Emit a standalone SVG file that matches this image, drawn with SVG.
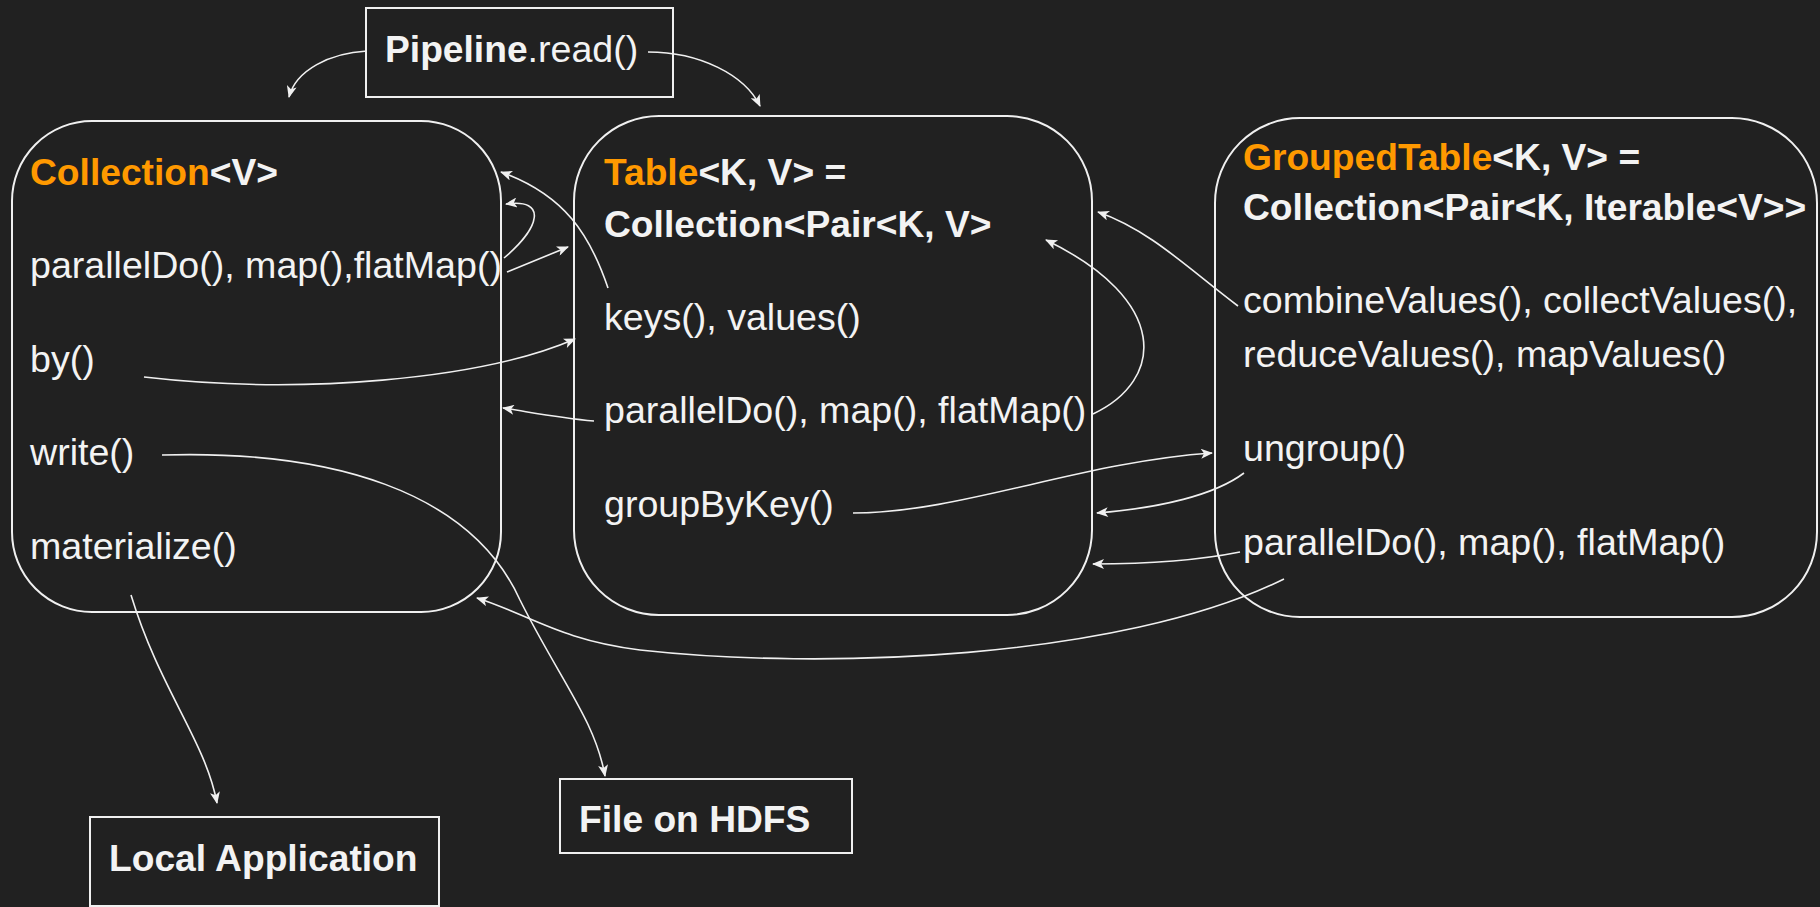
<svg xmlns="http://www.w3.org/2000/svg" width="1820" height="907" viewBox="0 0 1820 907">
  <style>
    .box { fill: none; stroke: #f0f0f0; stroke-width: 2; }
    .t { font-family: "Liberation Sans", Arial, sans-serif; font-size: 37.6px; fill: #f3f3f3; }
    .b { font-weight: bold; font-size: 37.2px; }
    .o { fill: #ff9900; }
    .edge { fill: none; stroke: #f0f0f0; stroke-width: 1.6; marker-end: url(#arrow); }
  </style>
  <defs>
    <marker id="arrow" viewBox="0 0 12 10" refX="11" refY="5" markerWidth="13" markerHeight="10" markerUnits="userSpaceOnUse" orient="auto">
      <path d="M0,0 L12,5 L0,10 L3,5 z" fill="#f0f0f0"/>
    </marker>
  </defs>

  <rect width="1820" height="907" fill="#212121"/>

  <!-- source -->
  <g id="pipeline">
    <rect class="box" x="366" y="8" width="307" height="89"/>
    <text class="t" x="385" y="62"><tspan class="b">Pipeline</tspan>.read()</text>
  </g>

  <!-- Collection<V> -->
  <g id="collection">
    <rect class="box" x="12" y="121" width="489" height="491" rx="80" ry="80"/>
    <text class="t b" x="30" y="185"><tspan class="o">Collection</tspan>&lt;V&gt;</text>
    <text class="t" x="30" y="278">parallelDo(), map(),flatMap()</text>
    <text class="t" x="30" y="372">by()</text>
    <text class="t" x="30" y="465">write()</text>
    <text class="t" x="30" y="559">materialize()</text>
  </g>

  <!-- Table<K, V> -->
  <g id="table">
    <rect class="box" x="574" y="116" width="518" height="499" rx="85" ry="85"/>
    <text class="t b" x="604" y="185"><tspan class="o">Table</tspan>&lt;K, V&gt; =</text>
    <text class="t b" x="604" y="237">Collection&lt;Pair&lt;K, V&gt;</text>
    <text class="t" x="604" y="330">keys(), values()</text>
    <text class="t" x="604" y="423">parallelDo(), map(), flatMap()</text>
    <text class="t" x="604" y="517">groupByKey()</text>
  </g>

  <!-- GroupedTable<K, V> -->
  <g id="groupedtable">
    <rect class="box" x="1215" y="118" width="602" height="499" rx="85" ry="85"/>
    <text class="t b" x="1243" y="170"><tspan class="o">GroupedTable</tspan>&lt;K, V&gt; =</text>
    <text class="t b" x="1243" y="220">Collection&lt;Pair&lt;K, Iterable&lt;V&gt;&gt;</text>
    <text class="t" x="1243" y="313">combineValues(), collectValues(),</text>
    <text class="t" x="1243" y="367">reduceValues(), mapValues()</text>
    <text class="t" x="1243" y="461">ungroup()</text>
    <text class="t" x="1243" y="555">parallelDo(), map(), flatMap()</text>
  </g>

  <!-- sinks -->
  <g id="hdfs">
    <rect class="box" x="560" y="779" width="292" height="74"/>
    <text class="t b" x="579" y="832">File on HDFS</text>
  </g>
  <g id="local">
    <rect class="box" x="90" y="817" width="349" height="89"/>
    <text class="t b" x="109" y="871">Local Application</text>
  </g>

  <g id="connectors">
    <path class="edge" d="M367 51 C330 53 296 70 289 97"/>
    <path class="edge" d="M648 52 C700 52 745 75 760 106"/>
    <path class="edge" d="M608 288 C590 235 565 195 501 172"/>
    <path class="edge" d="M504 258 C540 228 548 198 506 204"/>
    <path class="edge" d="M507 272 L568 247"/>
    <path class="edge" d="M144 377 C300 395 480 380 575 339"/>
    <path class="edge" d="M594 421 C560 418 535 413 503 408"/>
    <path class="edge" d="M162 455 C330 450 470 490 520 600 C560 680 595 720 605 776"/>
    <path class="edge" d="M131 595 C160 690 205 740 217 803"/>
    <path class="edge" d="M1093 414 C1165 380 1170 300 1046 240"/>
    <path class="edge" d="M1238 306 C1190 270 1150 230 1098 212"/>
    <path class="edge" d="M853 513 C960 513 1080 462 1212 453"/>
    <path class="edge" d="M1244 473 C1215 495 1160 508 1097 513"/>
    <path class="edge" d="M1240 552 C1200 560 1150 564 1093 564"/>
    <path class="edge" d="M1284 579 C1120 660 820 670 640 650 C560 640 530 615 477 598"/>
  </g>
</svg>
